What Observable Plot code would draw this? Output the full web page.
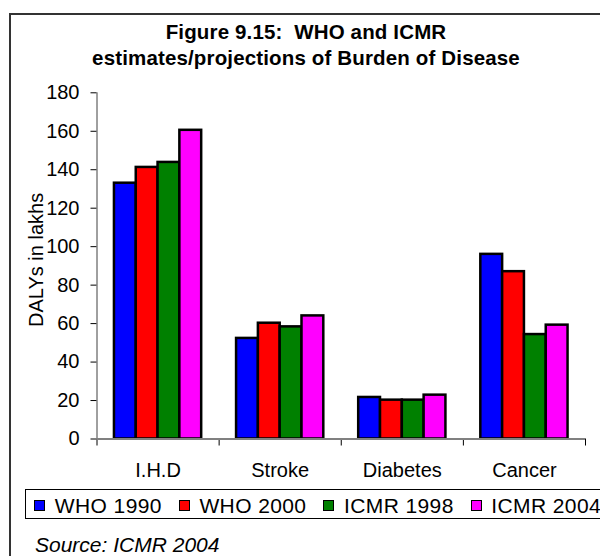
<!DOCTYPE html>
<html>
<head>
<meta charset="utf-8">
<script src="https://cdn.jsdelivr.net/npm/d3@7"></script>
<script src="https://cdn.jsdelivr.net/npm/@observablehq/plot@0.6"></script>
<style>
  html, body { margin: 0; padding: 0; overflow: hidden; background: #fff; }
  body { width: 600px; height: 556px; position: relative; font-family: 'Liberation Sans', Arial, sans-serif; color: #000; }
  #frame { position: absolute; left: 9px; top: 13px; width: 590px; height: 560px; border: 2px solid #333; }
  #title { position: absolute; left: 0; top: 0; width: 590px; height: 56px; box-sizing: border-box; padding-top: 3.8px;
           text-align: center; font-weight: bold; font-size: 20.5px; letter-spacing: 0.15px; line-height: 26px; white-space: pre; }
  #plot { position: absolute; left: 0; top: 56px; }
  #legend { position: absolute; left: 14px; top: 474.3px; width: 600px; height: 29.7px; box-sizing: border-box;
            border: 1px solid #000; display: flex; align-items: center; padding: 2px 0 0 8.3px; font-size: 21px;
            letter-spacing: 0.4px; line-height: 21px; white-space: nowrap; }
  .item { display: flex; align-items: center; margin-right: 17px; }
  .sw { width: 11px; height: 11px; box-sizing: border-box; border: 1.5px solid #000; margin-right: 9.5px; }
  #source { position: absolute; left: 24px; top: 519px; font-size: 21px; font-style: italic; line-height: 21px; white-space: nowrap; }
</style>
</head>
<body>
<div id="frame">
  <div id="title"></div>
  <div id="plot"></div>
  <div id="legend"></div>
  <div id="source"></div>
</div>
<script>
// ---- data ----
const titleLines = ["Figure 9.15:  WHO and ICMR", "estimates/projections of Burden of Disease"];
const categories = ["I.H.D", "Stroke", "Diabetes", "Cancer"];
const seriesNames = ["WHO 1990", "WHO 2000", "ICMR 1998", "ICMR 2004"];
const seriesColors = ["#0000ff", "#ff0000", "#008000", "#ff00ff"];
const who1990 = [133, 52.3, 21.6, 96];
const who2000 = [141.2, 60.2, 20.2, 87];
const icmr1998 = [143.8, 58.3, 20.2, 54.3];
const icmr2004 = [160.5, 64, 22.8, 59.2];
const yTicks = [0, 20, 40, 60, 80, 100, 120, 140, 160, 180];
const yLabel = "DALYs in lakhs";
const sourceText = "Source: ICMR 2004";

// ---- build table ----
const seriesValues = [who1990, who2000, icmr1998, icmr2004];
const rows = [];
seriesNames.forEach((s, j) => {
  categories.forEach((c, i) => {
    rows.push({category: c, ci: i, series: s, value: seriesValues[j][i]});
  });
});
// sub-band within each category (grouped bars)
const inner = d3.scaleBand().domain(seriesNames).range([0, 1]).paddingInner(0).paddingOuter(0.8);
const catRows = categories.map((c, i) => ({name: c, ci: i}));

document.getElementById("title").textContent = titleLines.join("\n");
document.getElementById("source").textContent = sourceText;

const plot = Plot.plot({
  width: 590,
  height: 414,
  marginTop: 21.3,
  marginRight: 16,
  marginBottom: 46.5,
  marginLeft: 85.5,
  style: {fontFamily: "'Liberation Sans', Arial, sans-serif", fontSize: "20px", color: "#000", background: "transparent", overflow: "visible"},
  x: {domain: [0, categories.length], ticks: d3.range(categories.length + 1), tickFormat: () => "", tickSize: 7, label: null},
  y: {domain: [yTicks[0], yTicks[yTicks.length - 1]], ticks: yTicks, tickSize: 6, tickPadding: 11.5, label: null},
  color: {domain: seriesNames, range: seriesColors},
  marks: [
    Plot.ruleX([0], {stroke: "#404040", strokeWidth: 1}),
    Plot.rect(rows, {
      x1: d => d.ci + inner(d.series),
      x2: d => d.ci + inner(d.series) + inner.bandwidth(),
      y1: () => 0,
      y2: "value",
      fill: "series",
      stroke: "#000",
      strokeWidth: 2.5
    }),
    Plot.ruleY([0], {stroke: "#808080", strokeWidth: 2}),
    Plot.text(catRows, {x: d => d.ci + 0.5, y: () => 0, text: "name", dy: 31.1, fontSize: 20}),
    Plot.text([yLabel], {frameAnchor: "left", textAnchor: "middle", rotate: -90, dx: -60.25, dy: -6, fontSize: 20})
  ]
});
document.getElementById("plot").appendChild(plot);

const legend = document.getElementById("legend");
seriesNames.forEach((s, j) => {
  const it = document.createElement("div");
  it.className = "item";
  const sw = document.createElement("div");
  sw.className = "sw";
  sw.style.background = seriesColors[j];
  const tx = document.createElement("span");
  tx.textContent = s;
  it.appendChild(sw);
  it.appendChild(tx);
  legend.appendChild(it);
});
</script>
</body>
</html>
